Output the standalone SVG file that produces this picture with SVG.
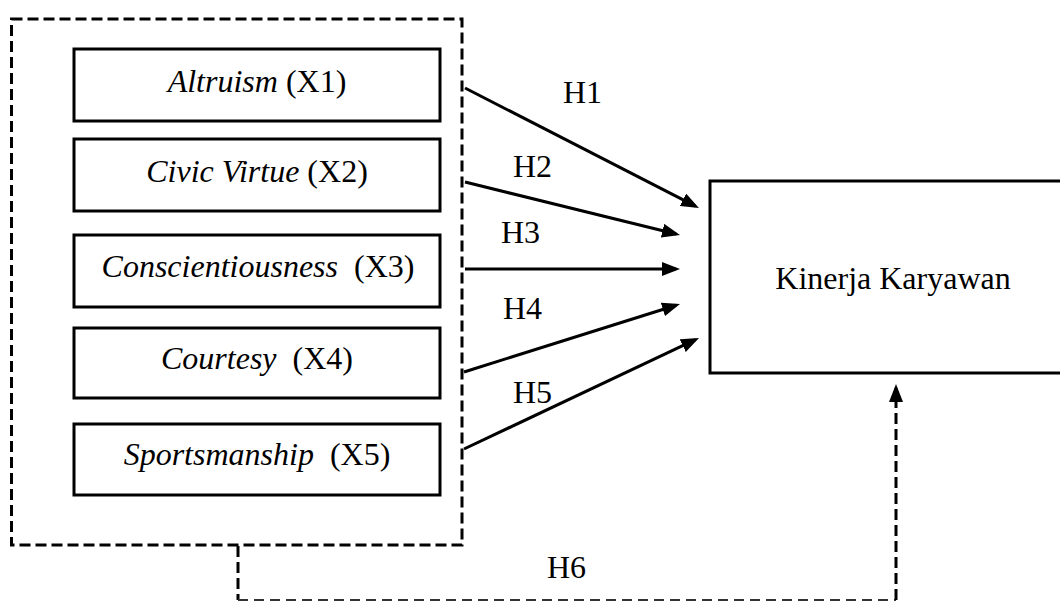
<svg xmlns="http://www.w3.org/2000/svg" width="1060" height="601" viewBox="0 0 1060 601">
<style>
text{font-family:"Liberation Serif","Times New Roman",serif;font-size:32px;fill:#000;white-space:pre}
.it{font-style:italic}
.box{fill:#fff;stroke:#000;stroke-width:3}
.dash{fill:none;stroke:#000;stroke-width:3;stroke-dasharray:11 5}
.thin{fill:none;stroke:#333;stroke-width:2;stroke-dasharray:10 6}
.arr{fill:none;stroke:#000;stroke-width:3;marker-end:url(#ah)}
</style>
<defs>
<marker id="ah" viewBox="0 0 18 14" refX="14" refY="7" markerWidth="18" markerHeight="14" markerUnits="userSpaceOnUse" orient="auto">
<path d="M0,0 L18,7 L0,14 z" fill="#000"/>
</marker>
</defs>
<rect id="group-box" x="11.5" y="19" width="450.5" height="526" class="dash"/>
<g id="x1"><rect x="74" y="49" width="366" height="72" class="box"/><text x="257" y="92" text-anchor="middle"><tspan class="it">Altruism</tspan> (X1)</text></g>
<g id="x2"><rect x="74" y="139" width="366" height="72" class="box"/><text x="257" y="182" text-anchor="middle"><tspan class="it">Civic Virtue</tspan> (X2)</text></g>
<g id="x3"><rect x="74" y="235" width="366" height="72" class="box"/><text x="258" y="277" text-anchor="middle"><tspan class="it">Conscientiousness</tspan>  (X3)</text></g>
<g id="x4"><rect x="74" y="328" width="366" height="70" class="box"/><text x="257" y="369" text-anchor="middle"><tspan class="it">Courtesy</tspan>  (X4)</text></g>
<g id="x5"><rect x="74" y="424" width="366" height="71" class="box"/><text x="257" y="465" text-anchor="middle"><tspan class="it">Sportsmanship</tspan>  (X5)</text></g>
<g id="y"><rect x="710" y="181" width="370" height="192" class="box"/><text x="893" y="289" text-anchor="middle">Kinerja Karyawan</text></g>
<g id="connectors">
<line x1="465" y1="88" x2="695.4" y2="206.2" class="arr"/>
<line x1="465" y1="182" x2="676.1" y2="234" class="arr"/>
<line x1="465" y1="269" x2="676" y2="269" class="arr"/>
<line x1="464" y1="372" x2="676.2" y2="305.2" class="arr"/>
<line x1="464" y1="449" x2="695.4" y2="339.7" class="arr"/>
<line x1="238" y1="546" x2="238" y2="600" class="dash"/>
<line x1="238" y1="600" x2="896" y2="600" class="thin"/>
<path d="M896,600 L896,388" class="dash" style="marker-end:url(#ah)"/>
<text x="563" y="103">H1</text>
<text x="513" y="177">H2</text>
<text x="501" y="243">H3</text>
<text x="503" y="319">H4</text>
<text x="513" y="403">H5</text>
<text x="547" y="578">H6</text>
</g>
</svg>
